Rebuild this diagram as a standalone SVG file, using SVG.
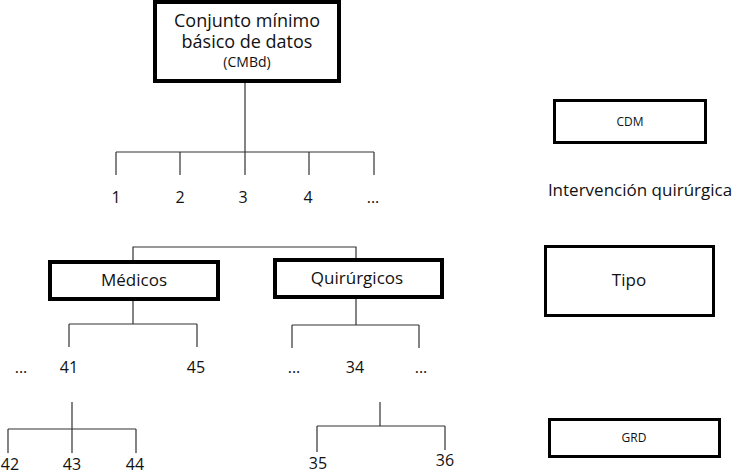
<svg xmlns="http://www.w3.org/2000/svg" width="733" height="472" viewBox="0 0 733 472">
<style>
  .box { fill: #fff; stroke: #000; stroke-width: 4; }
  .box3 { fill: #fff; stroke: #000; stroke-width: 3; }
  .ln { fill: none; stroke: #333; stroke-width: 1.2; }
  text { font-family: "Open Sans", "Noto Sans", sans-serif; fill: #111; text-anchor: middle; }
  .big { font-size: 18px; }
  .mid { font-size: 16px; }
  .lg { font-size: 17px; }
  .sm { font-size: 12px; }
</style>
<rect width="733" height="472" fill="#fff"/>
<g id="connectors">
  <path class="ln" d="M245 83 V152 M116 152 H374 M116 152 V175 M180 152 V175 M245 152 V175 M309 152 V175 M374 152 V175"/>
  <path class="ln" d="M133 260 V247 H356 V258"/>
  <path class="ln" d="M133 301 V324 M69 324 H197 M69 324 V347 M197 324 V347"/>
  <path class="ln" d="M356 299 V325 M292 325 H419 M292 325 V348 M419 325 V348"/>
  <path class="ln" d="M72 402 V453 M8 429 H136 M8 429 V453 M136 429 V453"/>
  <path class="ln" d="M380 402 V426 M317 426 H445 M317 426 V452 M445 426 V450"/>
</g>
<g id="cmbd">
  <rect class="box" x="155" y="2" width="184" height="79"/>
  <text class="big" x="247" y="27">Conjunto mínimo</text>
  <text class="big" x="247" y="48">básico de datos</text>
  <text x="247" y="67" font-size="14">(CMBd)</text>
</g>
<g id="n1"><text class="mid" x="116" y="203">1</text></g>
<g id="n2"><text class="mid" x="180" y="203">2</text></g>
<g id="n3"><text class="mid" x="243" y="203">3</text></g>
<g id="n4"><text class="mid" x="308" y="203">4</text></g>
<g id="n5"><text class="mid" x="373" y="203">...</text></g>
<g id="medicos">
  <rect class="box" x="50" y="262" width="168" height="37"/>
  <text class="lg" x="134" y="286">Médicos</text>
</g>
<g id="quirurgicos">
  <rect class="box" x="275" y="260" width="167" height="37"/>
  <text class="lg" x="357" y="284">Quirúrgicos</text>
</g>
<g id="m0"><text class="mid" x="21" y="373">...</text></g>
<g id="m41"><text class="mid" x="69" y="373">41</text></g>
<g id="m45"><text class="mid" x="196" y="373">45</text></g>
<g id="q0"><text class="mid" x="294" y="373">...</text></g>
<g id="q34"><text class="mid" x="355" y="373">34</text></g>
<g id="q1"><text class="mid" x="421" y="373">...</text></g>
<g id="g42"><text class="mid" x="10" y="470">42</text></g>
<g id="g43"><text class="mid" x="72" y="470">43</text></g>
<g id="g44"><text class="mid" x="135" y="470">44</text></g>
<g id="g35"><text class="mid" x="318" y="469">35</text></g>
<g id="g36"><text class="mid" x="445" y="466">36</text></g>
<g id="cdm">
  <rect class="box3" x="554.5" y="100.5" width="151" height="42"/>
  <text class="sm" x="630" y="126">CDM</text>
</g>
<g id="intervencion"><text class="lg" x="640" y="196">Intervención quirúrgica</text></g>
<g id="tipo">
  <rect class="box3" x="545.5" y="246.5" width="168" height="69"/>
  <text class="lg" x="629" y="286">Tipo</text>
</g>
<g id="grd">
  <rect class="box3" x="549.5" y="419.5" width="170" height="37"/>
  <text class="sm" x="634" y="442">GRD</text>
</g>
</svg>
